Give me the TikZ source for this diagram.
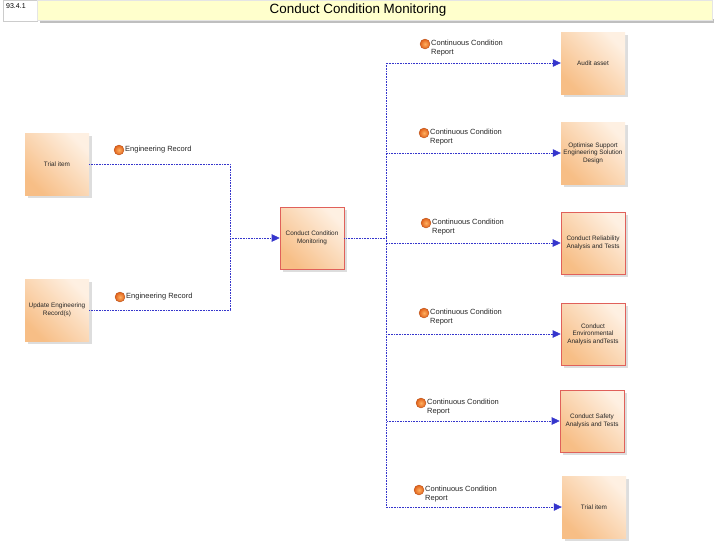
\documentclass[tikz,border=0pt]{standalone}
\usepackage{fontspec}
\setmainfont{Liberation Sans}
\usetikzlibrary{arrows.meta,shadows}
\definecolor{peachD}{HTML}{F7BE86}
\definecolor{peachL}{HTML}{FEF0E2}
\definecolor{redline}{HTML}{E0605A}
\definecolor{flowblue}{HTML}{3535CC}
\definecolor{barfill}{HTML}{FFFFCC}
\definecolor{ballin}{HTML}{FFB060}
\definecolor{ballout}{HTML}{E0601A}
\tikzset{
  actbox/.style={minimum width=64pt, minimum height=62pt, inner sep=1pt, align=center,
    bottom color=peachD, top color=peachL, shading angle=-45,
    font=\fontsize{6.4}{7.6}\selectfont, text=black!85,
    drop shadow={shadow xshift=3pt, shadow yshift=-3pt, opacity=0.22, fill=black!60}},
  redbox/.style={actbox, draw=redline, line width=0.6pt},
  link/.style={draw=flowblue, densely dotted, line width=0.6pt},
  arrowlink/.style={link, -{Triangle[length=8pt,width=7.5pt]}, shorten >=0pt},
  ball/.style={circle, minimum size=10pt, inner sep=0pt, inner color=ballin, outer color=ballout, draw=ballout!80!black, line width=0.3pt},
  lbl/.style={anchor=north west, inner sep=0pt, align=left, font=\fontsize{7.5}{9}\selectfont, text=black!85},
}
\begin{document}
\begin{tikzpicture}[x=1pt,y=-1pt]
\useasboundingbox (0,0) rectangle (719,544);
% header
\node[draw=black!20, fill=white, minimum width=34pt, minimum height=21pt, anchor=north west, inner sep=0pt] (idbox) at (3,0) {};
\node[anchor=north west, inner sep=0pt, font=\fontsize{7}{8}\selectfont] (idtxt) at (6,3) {93.4.1};
\fill[black!25] (40,19) rectangle (714,23);
\node[draw=black!10, fill=barfill, minimum width=675pt, minimum height=20pt, anchor=north west, inner sep=0pt] (bar) at (37,0) {};
\node[font=\fontsize{13.4}{15}\selectfont] (title) at (358,10) {Conduct Condition Monitoring};
% boxes
\node[actbox] (trialL) at (57,164) {Trial item};
\node[actbox] (update) at (57,310) {Update Engineering\\Record(s)};
\node[redbox] (ccm) at (312,238) {Conduct Condition\\Monitoring};
\node[actbox] (audit) at (593,63) {Audit asset};
\node[actbox] (optim) at (593,153) {Optimise Support\\Engineering Solution\\Design};
\node[redbox] (reli) at (593,243) {Conduct Reliability\\Analysis and Tests};
\node[redbox] (env) at (593,334) {Conduct\\Environmental\\Analysis andTests};
\node[redbox] (safe) at (592,421) {Conduct Safety\\Analysis and Tests};
\node[actbox] (trialR) at (594,507) {Trial item};
% connectors
\coordinate (jL) at (230,238);
\coordinate (jR) at (386,238);
\draw[link] (trialL.east) -| (jL);
\draw[link] (update.east) -| (jL);
\draw[arrowlink] (jL) -- (ccm.west);
\draw[link] (ccm.east) -- (jR);
\draw[arrowlink] (jR) |- (audit.west);
\draw[arrowlink] (jR) |- (optim.west);
\draw[arrowlink] (jR) |- (reli.west);
\draw[arrowlink] (jR) |- (env.west);
\draw[arrowlink] (jR) |- (safe.west);
\draw[arrowlink] (jR) |- (trialR.west);
% labels
\node[ball] (b1) at (119,150) {};
\node[lbl, anchor=west] (l1) at (125,150) {Engineering Record};
\node[ball] (b2) at (120,297) {};
\node[lbl, anchor=west] (l2) at (126,297) {Engineering Record};
\node[ball] (b3) at (425,44) {};
\node[lbl] (l3) at (431,39.5) {Continuous Condition\\Report};
\node[ball] (b4) at (424,133) {};
\node[lbl] (l4) at (430,128.5) {Continuous Condition\\Report};
\node[ball] (b5) at (426,223) {};
\node[lbl] (l5) at (432,218.5) {Continuous Condition\\Report};
\node[ball] (b6) at (424,313) {};
\node[lbl] (l6) at (430,308.5) {Continuous Condition\\Report};
\node[ball] (b7) at (421,403) {};
\node[lbl] (l7) at (427,398.5) {Continuous Condition\\Report};
\node[ball] (b8) at (419,490) {};
\node[lbl] (l8) at (425,485.5) {Continuous Condition\\Report};
\end{tikzpicture}
\end{document}
